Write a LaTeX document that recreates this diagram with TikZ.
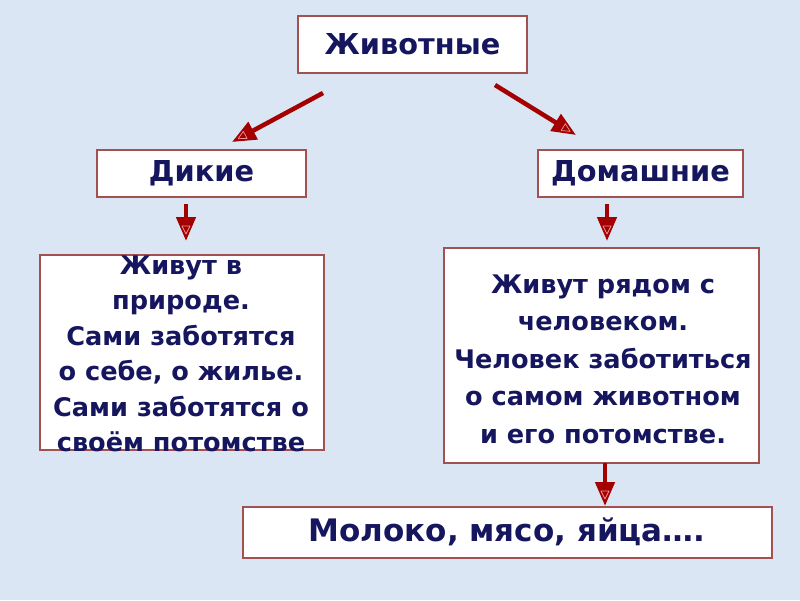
\documentclass[tikz,border=0pt]{standalone}
\usepackage{fontspec}
\setmainfont{DejaVu Sans}
\usetikzlibrary{arrows.meta,decorations.markings}
\definecolor{bgblue}{RGB}{218,230,244}
\definecolor{boxline}{RGB}{165,80,80}
\definecolor{arrred}{RGB}{165,0,0}
\definecolor{txtnavy}{RGB}{22,22,95}
\definecolor{hilite}{RGB}{235,150,150}
\tikzset{
  box/.style={draw=boxline, line width=1.4pt, fill=white, rectangle, inner sep=0pt},
  lbl/.style={text=txtnavy, font=\bfseries\fontsize{28.8}{30}\selectfont, inner sep=0pt},
  body/.style={text=txtnavy, font=\bfseries\fontsize{25.6}{35.5}\selectfont, align=center, inner sep=0pt},
  arr/.style={draw=arrred, line width=4.5pt,
    -{Triangle[length=24pt,width=19pt]},
    postaction={decorate, decoration={markings,
      mark=at position 1 with {\draw[hilite, line width=0.7pt, line join=round] (-15pt,-4pt) -- (-7pt,0pt) -- (-15pt,4pt) -- cycle;}}}}
}
\begin{document}
\begin{tikzpicture}[x=1pt,y=-1pt]
\useasboundingbox[fill=bgblue] (0,0) rectangle (800,600);
% boxes
\node[box, minimum width=229, minimum height=57] (anim) at (412.5,44.5) {};
\node[lbl] (animt) at (anim.center) {Животные};
\node[box, minimum width=209, minimum height=47] (wild) at (201.5,173.5) {};
\node[lbl] (wildt) at (wild.center) {Дикие};
\node[box, minimum width=205, minimum height=47] (dom) at (640.5,173.5) {};
\node[lbl] (domt) at (dom.center) {Домашние};
\node[box, minimum width=284, minimum height=195] (wtext) at (182,352.5) {};
\node[body] (wtextt) at (181,354) {Живут в\\природе.\\Сами заботятся\\о себе, о жилье.\\Сами заботятся о\\своём потомстве};
\node[box, minimum width=315, minimum height=215] (dtext) at (601.5,355.5) {};
\node[body, font=\bfseries\fontsize{25.6}{37.5}\selectfont] (dtextt) at (603,359) {Живут рядом с\\человеком.\\Человек заботиться\\о самом животном\\и его потомстве.};
\node[box, minimum width=529, minimum height=51] (prod) at (507.5,532.5) {};
\node[lbl, font=\bfseries\fontsize{31}{33}\selectfont] (prodt) at (507,532) {Молоко, мясо, яйца\dots.};
% arrow end points
\coordinate (a1s) at (323,93);
\coordinate (a1e) at (232,142);
\coordinate (a2s) at (495,85);
\coordinate (a2e) at (576,135);
\coordinate (a3s) at (186,204);
\coordinate (a3e) at (186,241);
\coordinate (a4s) at (607,204);
\coordinate (a4e) at (607,241);
\coordinate (a5s) at (605,463);
\coordinate (a5e) at (605,506);
\draw[arr] (a1s) -- (a1e);
\draw[arr] (a2s) -- (a2e);
\draw[arr] (a3s) -- (a3e);
\draw[arr] (a4s) -- (a4e);
\draw[arr] (a5s) -- (a5e);
\end{tikzpicture}
\end{document}
